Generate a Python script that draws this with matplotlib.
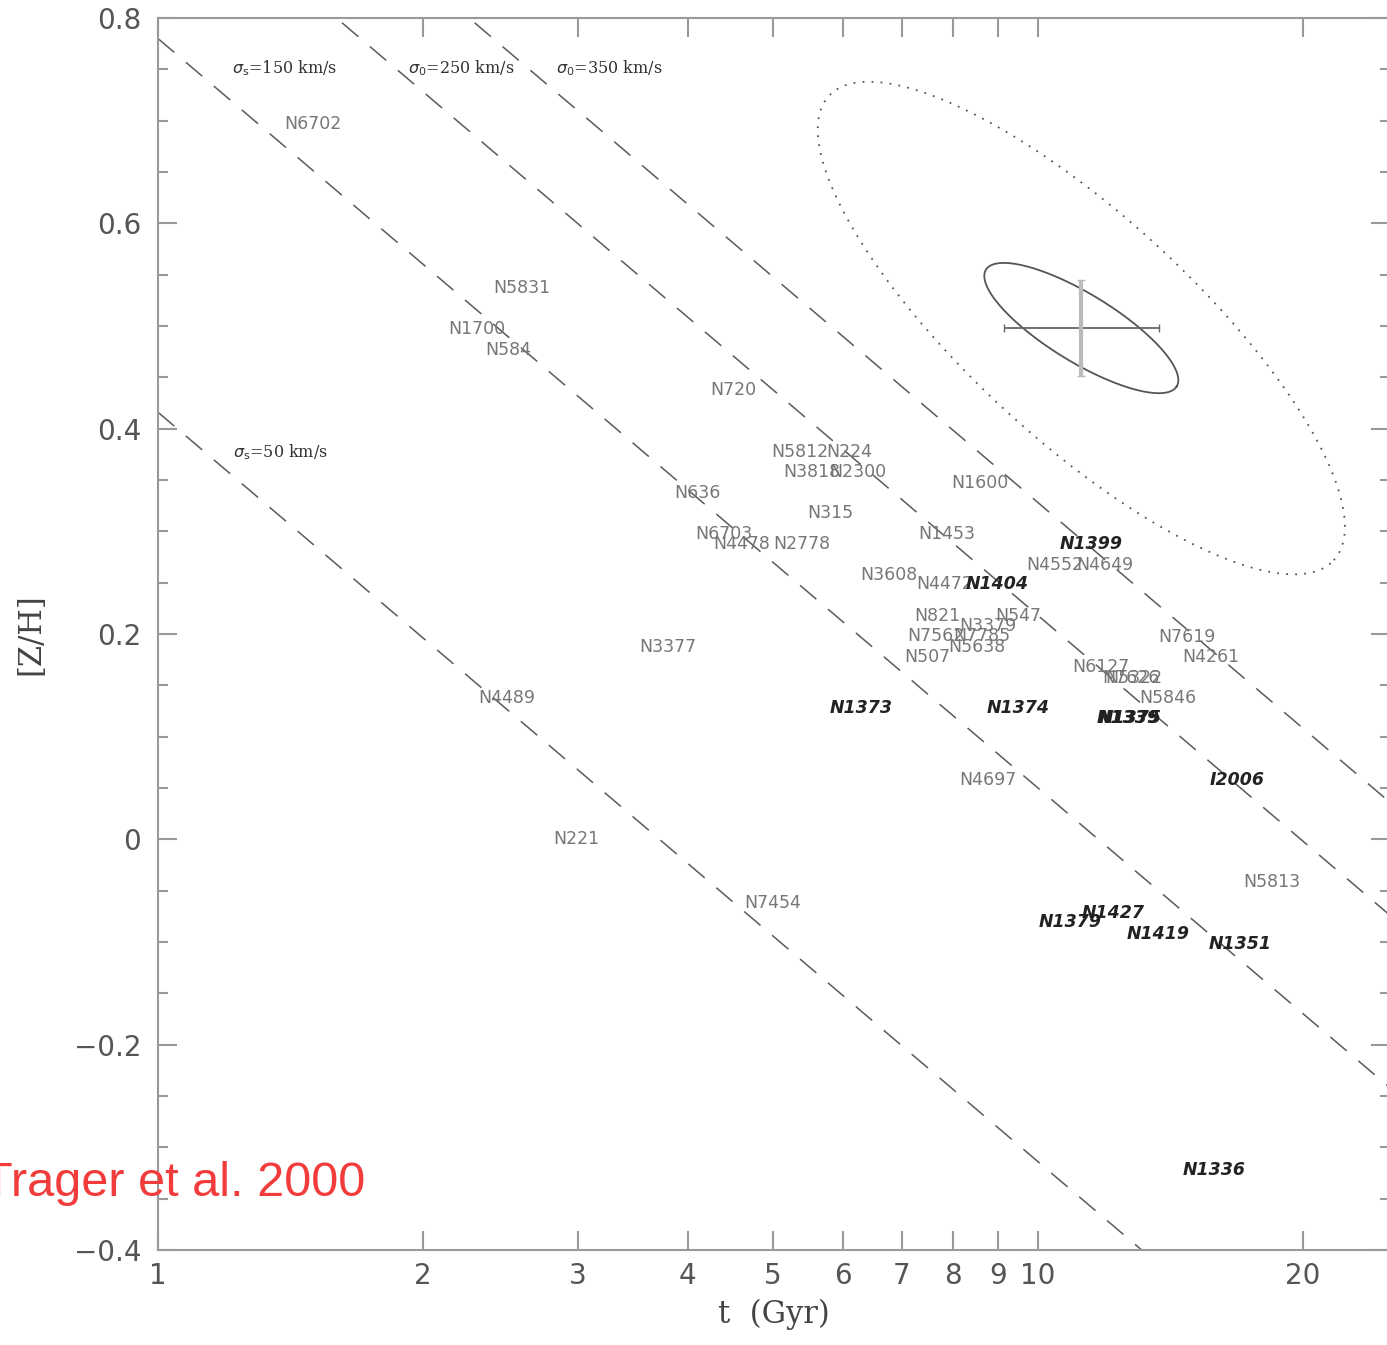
import numpy as np
import matplotlib
matplotlib.use("Agg")
import matplotlib.pyplot as plt
from matplotlib.ticker import FixedLocator, MultipleLocator, NullLocator

# galaxy labels: name, age t (Gyr), [Z/H]
names = ["N6702", "N5831", "N1700", "N584", "N720", "N5812", "N224", "N3818", "N2300",
         "N636", "N1600", "N315", "N1453", "N6703", "N4478", "N2778", "N3608", "N4472",
         "N1404", "N1399", "N4552", "N4649", "N821", "N547", "N3379", "N7562", "N7785",
         "N5638", "N507", "N3377", "N7619", "N4261", "N6127", "N7626", "N5322", "N5846",
         "N4489", "N1373", "N1374", "N1339", "N1375", "I2006", "N4697", "N221", "N5813",
         "N7454", "N1427", "N1379", "N1419", "N1351", "N1336"]
ages = [1.50, 2.59, 2.30, 2.50, 4.50, 5.36, 6.11, 5.54, 6.24,
        4.10, 8.59, 5.80, 7.88, 4.40, 4.60, 5.39, 6.77, 7.84,
        8.98, 11.49, 10.45, 11.92, 7.68, 9.49, 8.77, 7.66, 8.64,
        8.52, 7.48, 3.80, 14.77, 15.73, 11.80, 12.76, 12.86, 14.05,
        2.49, 6.29, 9.49, 12.66, 12.73, 16.83, 8.77, 2.99, 18.45,
        5.00, 12.17, 10.87, 13.69, 16.97, 15.85]
zh = [0.697, 0.537, 0.497, 0.477, 0.438, 0.377, 0.377, 0.358, 0.358,
      0.337, 0.347, 0.318, 0.297, 0.297, 0.288, 0.288, 0.257, 0.249,
      0.249, 0.288, 0.267, 0.267, 0.218, 0.218, 0.208, 0.198, 0.198,
      0.187, 0.178, 0.187, 0.197, 0.178, 0.168, 0.157, 0.157, 0.138,
      0.138, 0.128, 0.128, 0.118, 0.118, 0.058, 0.058, 0.0, -0.042,
      -0.062, -0.072, -0.081, -0.092, -0.102, -0.322]
fornax = ["N1404", "N1399", "N1373", "N1374", "N1339", "N1375", "I2006",
          "N1427", "N1379", "N1419", "N1351", "N1336"]

# constant velocity dispersion lines: [Z/H] = zp - 0.73 log t
sigmas = [50, 150, 250, 350]
zero_points = [0.416, 0.780, 0.948, 1.058]
age_slope = -0.73
sig_labels = [r"$\sigma_{\rm s}$=50 km/s", r"$\sigma_{\rm s}$=150 km/s",
              r"$\sigma_0$=250 km/s", r"$\sigma_0$=350 km/s"]
sig_label_t = [1.376, 1.394, 2.21, 3.26]
sig_label_z = [0.377, 0.751, 0.751, 0.751]

# error ellipses (centre, semi-axis vectors in (log t, [Z/H]))
ell_center = (np.log10(11.2), 0.498)
small_major = (0.1084, -0.0568)
small_minor = (0.0201, 0.0283)
big_major = (0.2869, -0.2261)
big_minor = (0.0861, 0.0803)
err_logt = 0.088
err_z = 0.047

fig = plt.figure(figsize=(13.87, 13.45), dpi=100)
ax = fig.add_axes([158/1387, 95/1345, 1232/1387, 1232/1345])
ax.set_xscale("log")
ax.set_xlim(1, 10**1.4)
ax.set_ylim(-0.4, 0.8)

tt = np.logspace(0, 1.4, 200)
for zp in zero_points:
    ax.plot(tt, zp + age_slope*np.log10(tt), color="#5a5a5a", lw=1.1,
            ls=(0, (14, 10)), clip_on=True)

for lab, t0, z0 in zip(sig_labels, sig_label_t, sig_label_z):
    ax.text(t0, z0, lab, fontsize=11.5, family="DejaVu Serif", color="#333333",
            ha="center", va="center")

for n, t0, z0 in zip(names, ages, zh):
    if n in fornax:
        ax.text(t0, z0, n, fontsize=12.5, style="italic", weight="bold",
                color="#222222", ha="center", va="center")
    else:
        ax.text(t0, z0, n, fontsize=12.5, color="#777777", ha="center", va="center")

phi = np.linspace(0, 2*np.pi, 300)
for maj, mnr, ls, col in [(small_major, small_minor, "-", "#555555"),
                          (big_major, big_minor, (0, (1, 4)), "#555555")]:
    lx = ell_center[0] + maj[0]*np.cos(phi) + mnr[0]*np.sin(phi)
    lz = ell_center[1] + maj[1]*np.cos(phi) + mnr[1]*np.sin(phi)
    ax.plot(10**lx, lz, color=col, lw=1.3, ls=ls)

tc = 10**ell_center[0]
ax.errorbar([tc], [ell_center[1]],
            xerr=[[tc - 10**(ell_center[0]-err_logt)], [10**(ell_center[0]+err_logt) - tc]],
            fmt="none", ecolor="#666666", elinewidth=1.3, capsize=3)
ax.errorbar([tc], [ell_center[1]], yerr=err_z, fmt="none", ecolor="#bbbbbb",
            elinewidth=3, capsize=3)

xt = [1, 2, 3, 4, 5, 6, 7, 8, 9, 10, 20]
ax.xaxis.set_major_locator(FixedLocator(xt))
ax.xaxis.set_minor_locator(NullLocator())
ax.set_xticklabels([str(v) for v in xt])
yt = [-0.4, -0.2, 0, 0.2, 0.4, 0.6, 0.8]
ax.set_yticks(yt)
ax.yaxis.set_minor_locator(MultipleLocator(0.05))
ax.set_yticklabels(["\u22120.2".replace("0.2", "0.4"), "\u22120.2", "0", "0.2", "0.4", "0.6", "0.8"])

ax.tick_params(which="both", direction="in", top=True, right=True, color="#999999",
               width=1.5, labelcolor="#555555", labelsize=20)
ax.tick_params(which="major", length=14)
ax.tick_params(which="minor", length=7)
ax.tick_params(axis="x", pad=9)
ax.tick_params(axis="y", pad=12)
for s in ax.spines.values():
    s.set_color("#999999")
    s.set_linewidth(1.5)

ax.set_xlabel("t  (Gyr)", family="DejaVu Serif", fontsize=22, color="#444444", labelpad=6)
ax.set_ylabel("[Z/H]", family="DejaVu Serif", fontsize=22, color="#444444", labelpad=20)

fig.text(365/1387, 1 - 1183/1345, "Trager et al. 2000", color="#f23c3c", fontsize=35,
         family="Liberation Sans", ha="right", va="center")

fig.savefig("out.png", dpi=100)
